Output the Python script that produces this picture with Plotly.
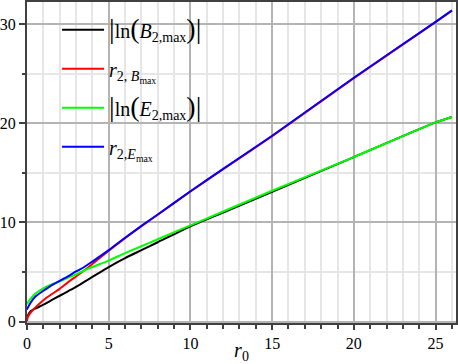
import plotly.graph_objects as go

# ---- data ----
r0 = [0, 0.05, 0.2, 0.5, 1, 1.5, 2, 2.5, 3, 3.5, 4, 5, 6, 7, 8, 10, 12, 15, 20, 25, 26]
ln_B2max = [0.35, 0.6, 1.0, 1.3, 1.7, 2.15, 2.6, 3.05, 3.5, 4.0, 4.5, 5.5, 6.4, 7.2, 8.0, 9.6, 11.0, 13.1, 16.6, 20.1, 20.65]
r2_Bmax = [0.05, 0.45, 0.85, 1.4, 2.15, 2.75, 3.3, 3.95, 4.55, 5.15, 5.8, 7.15, 8.42, 9.62, 10.78, 13.12, 15.37, 18.72, 24.57, 30.22, 31.37]
ln_E2max = [1.75, 1.9, 2.25, 2.8, 3.35, 3.75, 4.05, 4.4, 4.75, 5.15, 5.5, 6.15, 6.9, 7.6, 8.3, 9.7, 11.1, 13.2, 16.6, 20.1, 20.65]
r2_Emax = [1.2, 1.4, 1.85, 2.5, 3.1, 3.65, 4.1, 4.55, 5.05, 5.5, 6.05, 7.2, 8.45, 9.65, 10.8, 13.15, 15.4, 18.75, 24.6, 30.25, 31.4]

BIG = '<span style="font-size:28px">'
names = [
    BIG + '|</span>ln' + BIG + '(</span><i>B</i><sub>2,max</sub>' + BIG + ')|</span>',
    '<i>r</i><sub>2, <i>B</i><sub>max</sub></sub>',
    BIG + '|</span>ln' + BIG + '(</span><i>E</i><sub>2,max</sub>' + BIG + ')|</span>',
    '<i>r</i><sub>2,<i>E</i><sub>max</sub></sub>',
]
series = [ln_B2max, r2_Bmax, ln_E2max, r2_Emax]
colors = ['#000000', '#ff0000', '#00ff00', '#0000ff']

fig = go.Figure()
for i, (ys, nm, c) in enumerate(zip(series, names, colors)):
    fig.add_trace(go.Scatter(x=r0, y=ys, mode='lines', name=nm,
                             line=dict(color=c, width=2, shape='spline', smoothing=0.6),
                             legendgroup=str(i)))

serif = '"Liberation Serif", "Times New Roman", Times, serif'
fig.update_layout(
    width=458, height=364,
    margin=dict(l=27, r=2, t=2, b=41, autoexpand=False),
    paper_bgcolor='white', plot_bgcolor='white',
    font=dict(family=serif, size=16, color='black'),
    showlegend=True,
    legend=dict(x=0.07, y=0.974, xanchor='left', yanchor='top',
                bgcolor='rgba(0,0,0,0)', font=dict(family=serif, size=20),
                itemwidth=42, tracegroupgap=10, traceorder='grouped'),
    xaxis=dict(range=[0, 26.25], dtick=5, tick0=0, automargin=False,
               showgrid=True, gridcolor='#b4b4b4', gridwidth=1.5,
               ticks='outside', ticklen=5, tickcolor='#404040', tickwidth=1.5,
               showline=True, linecolor='#404040', linewidth=2, mirror=True,
               zeroline=False,
               minor=dict(dtick=1, showgrid=True, gridcolor='#e6e6e6', gridwidth=1.5,
                          ticks='outside', ticklen=4, tickcolor='#404040'),
               title=dict(text='<i>r</i><sub>0</sub>', font=dict(family=serif, size=20), standoff=0),
               tickfont=dict(family=serif, size=16)),
    yaxis=dict(range=[-0.15, 32.25], dtick=10, tick0=0, automargin=False,
               showgrid=True, gridcolor='#b4b4b4', gridwidth=1.5,
               ticks='outside', ticklen=6, tickcolor='#404040', tickwidth=1.5,
               showline=True, linecolor='#404040', linewidth=2, mirror=True,
               zeroline=False,
               minor=dict(dtick=5, showgrid=True, gridcolor='#e6e6e6', gridwidth=1.5,
                          ticks='outside', ticklen=3, tickcolor='#404040'),
               tickfont=dict(family=serif, size=16)),
)

fig.write_html('out.html', config={'displayModeBar': False},
               post_script="document.body.style.margin='0';document.body.style.padding='0';")
